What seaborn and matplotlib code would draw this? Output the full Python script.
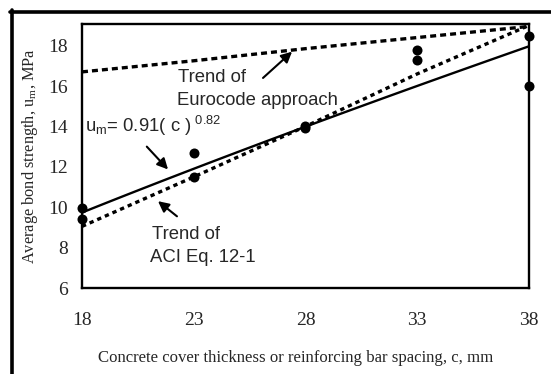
import numpy as np
import pandas as pd
import matplotlib
matplotlib.use("Agg")
import matplotlib.pyplot as plt
from matplotlib.lines import Line2D
import seaborn as sns

# Measured average bond strength (MPa) against cover / bar spacing c (mm)
cover_mm = [18, 18, 23, 23, 28, 28, 33, 33, 38, 38]
bond_mpa = [9.95, 9.4, 12.7, 11.5, 14.0, 13.9, 17.8, 17.3, 18.5, 16.0]

# Trend lines evaluated at the tick positions
trend_c = [18, 23, 28, 33, 38]
aci_trend = [9.05, 11.5, 14.0, 16.6, 19.0]
eurocode_trend = [16.7, 17.25, 17.85, 18.4, 18.95]

# Power-law fit u_m = 0.91 c^0.82
fit_coef = 0.91
fit_exp = 0.82
fit_c = np.linspace(18, 38, 60)
fit_u = fit_coef * fit_c ** fit_exp

x_ticks = [18, 23, 28, 33, 38]
y_ticks = [6, 8, 10, 12, 14, 16, 18]

sns.set_style("white")
plt.rcParams["font.family"] = ["Liberation Serif", "DejaVu Serif"]

fig = plt.figure(figsize=(5.51, 3.74), dpi=100)
ax = fig.add_axes([0.1488, 0.2299, 0.8112, 0.7059])

sns.lineplot(x=fit_c, y=fit_u, ax=ax, color="black", lw=1.7)
sns.lineplot(x=trend_c, y=aci_trend, ax=ax, color="black", lw=2.4,
             linestyle=(0, (1.3, 1.2)))
sns.lineplot(x=trend_c, y=eurocode_trend, ax=ax, color="black", lw=2.4,
             linestyle=(0, (1.8, 1.2)))
sns.scatterplot(x=cover_mm, y=bond_mpa, ax=ax, color="black", s=52,
                edgecolor="black", linewidth=0, zorder=5, clip_on=False)

ax.set_xlim(18, 38)
ax.set_ylim(6, 19.07)
ax.set_xticks(x_ticks)
ax.set_yticks(y_ticks)
ax.tick_params(axis="both", direction="out", length=4, width=0.8,
               color="#555555", labelsize=14)
ax.tick_params(axis="x", pad=13)
ax.tick_params(axis="y", pad=6)
for s in ax.spines.values():
    s.set_color("black")
    s.set_linewidth(1.7)

ax.set_xlabel("Concrete cover thickness or reinforcing bar spacing, c, mm",
              fontsize=12.1, labelpad=14)
ax.xaxis.set_label_coords(0.477, -0.235)
ax.set_ylabel(r"Average bond strength, u$_\mathregular{m}$, MPa",
              fontsize=11.8, labelpad=6)

sans = ["Liberation Sans", "DejaVu Sans"]
arrow = dict(arrowstyle="-|>", color="black", lw=1.5, mutation_scale=16,
             shrinkA=0, shrinkB=0)

ax.text(22.3, 16.4, "Trend of", family=sans, fontsize=13.3, va="center")
ax.text(22.25, 15.27, "Eurocode approach", family=sans, fontsize=13.3,
        va="center")
ax.annotate("", xy=(27.4, 17.7), xytext=(26.1, 16.4), arrowprops=arrow)

ax.text(18.12, 14.0,
        r"u$_\mathregular{m}$= 0.91( c )$^{\mathregular{\ 0.82}}$",
        family=sans, fontsize=13.3, va="center")
ax.annotate("", xy=(21.85, 11.87), xytext=(20.9, 13.0), arrowprops=arrow)

ax.text(21.13, 8.66, "Trend of", family=sans, fontsize=13.3, va="center")
ax.text(21.05, 7.53, "ACI Eq. 12-1", family=sans, fontsize=13.3,
        va="center")
ax.annotate("", xy=(21.4, 10.3), xytext=(22.25, 9.55), arrowprops=arrow)

# Heavy frame along the top and left edges of the figure
fig.add_artist(Line2D([10 / 551, 1.0], [1 - 11.5 / 374] * 2,
                      transform=fig.transFigure, color="black", lw=2.6))
fig.add_artist(Line2D([11.5 / 551] * 2, [0.0, 1 - 10 / 374],
                      transform=fig.transFigure, color="black", lw=2.6))

fig.savefig("out.png", dpi=100)
